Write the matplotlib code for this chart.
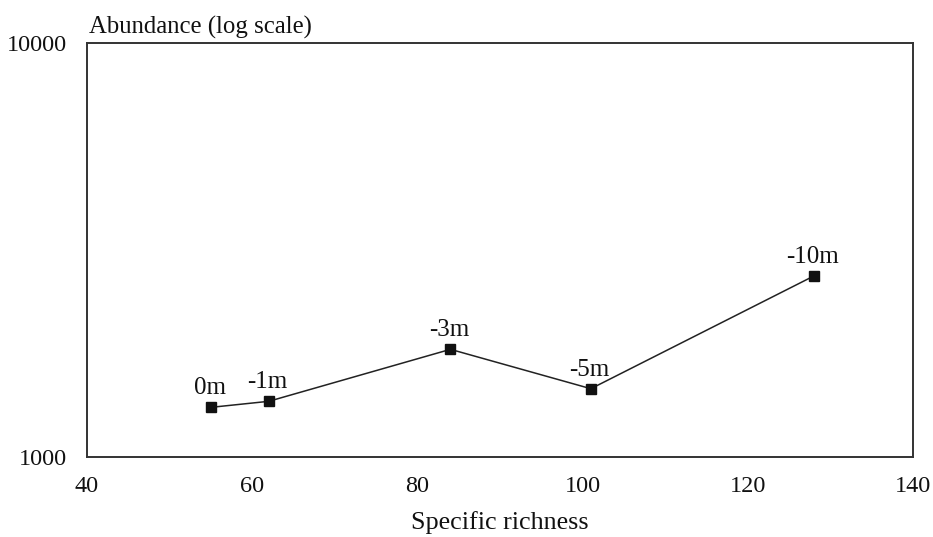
import matplotlib
matplotlib.use("Agg")
import matplotlib.pyplot as plt
from matplotlib.ticker import NullLocator, FixedLocator, FixedFormatter

# Data
depths = ["0m", "-1m", "-3m", "-5m", "-10m"]
richness = [55, 62, 84, 101, 128]
abundance = [1318, 1363, 1820, 1462, 2737]

x_ticks = [40, 60, 80, 100, 120, 140]
y_ticks = [1000, 10000]
y_tick_labels = ["1000", "10000"]

plt.rcParams['font.family'] = ['Liberation Serif', 'DejaVu Serif']

fig = plt.figure(figsize=(9.33, 5.37), dpi=100)
W, H = 933, 537
ax = fig.add_axes([87 / W, 1 - 457 / H, (913 - 87) / W, (457 - 43) / H])

ax.plot(richness, abundance, color="#222222", lw=1.1, marker="s",
        markersize=7.5, markerfacecolor="#111111", markeredgecolor="#111111")
for lab, x, y in zip(depths, richness, abundance):
    ax.annotate(lab, (x, y), xytext=(-1, 9.5), textcoords="offset points",
                ha="center", va="baseline", fontsize=18, color="#111111")

ax.set_yscale("log")
ax.set_xlim(40, 140)
ax.set_ylim(1000, 10000)
ax.xaxis.set_major_locator(FixedLocator(x_ticks))
ax.yaxis.set_major_locator(FixedLocator(y_ticks))
ax.yaxis.set_major_formatter(FixedFormatter(y_tick_labels))
ax.yaxis.set_minor_locator(NullLocator())
ax.xaxis.set_minor_locator(NullLocator())
ax.tick_params(axis="both", length=0, labelsize=17.5, colors="#111111")
ax.tick_params(axis="x", pad=13.5)
ax.tick_params(axis="y", pad=14.4)

for s in ax.spines.values():
    s.set_color("#333333")
    s.set_linewidth(1.4)

ax.set_xlabel("Specific richness", fontsize=18.8, color="#111111", labelpad=10)
fig.text(89 / W, 1 - 27 / H, "Abundance (log scale)", fontsize=17.8,
         color="#111111", ha="left", va="center")

fig.savefig("out.png", dpi=100, facecolor="white")
